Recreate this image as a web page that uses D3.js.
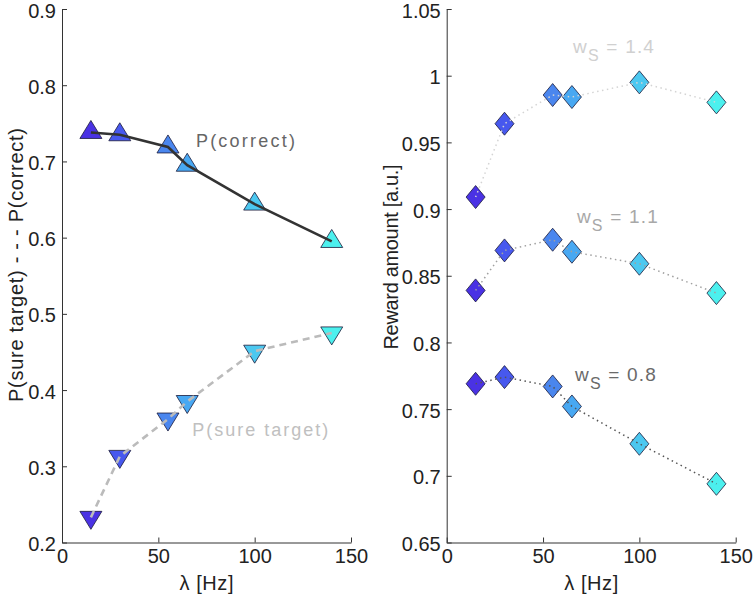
<!DOCTYPE html>
<html><head><meta charset="utf-8">
<script src="https://cdn.jsdelivr.net/npm/d3@7"></script>
<style>body{margin:0;background:#fff}svg{display:block;font-family:"Liberation Sans",Arial,sans-serif}</style>
</head><body><svg id="c" width="756" height="595"></svg>
<script>
const lambdas = [15, 30, 55, 65, 100, 140];
const markerColors = ["#4a32e4", "#4758ee", "#4a86ee", "#48a8f2", "#4cc8f0", "#4cf0ee"];
const pCorrect = [0.738, 0.735, 0.719, 0.695, 0.644, 0.595];
const pSure = [0.233, 0.313, 0.362, 0.385, 0.451, 0.475];
const reward14 = [0.909, 0.964, 0.9855, 0.984, 0.995, 0.980];
const reward11 = [0.839, 0.869, 0.877, 0.868, 0.859, 0.837];
const reward08 = [0.769, 0.774, 0.767, 0.752, 0.724, 0.694];
const xTicks = [0, 50, 100, 150];
const yTicksL = [0.2, 0.3, 0.4, 0.5, 0.6, 0.7, 0.8, 0.9];
const yTicksR = [0.65, 0.7, 0.75, 0.8, 0.85, 0.9, 0.95, 1, 1.05];

const svg = d3.select("#c");
const plotTop = 9, plotBottom = 542.5, W = 289;
const leftL = 62, leftR = 446.7;

function makeAxes(g, x, y, yTicks, fmt) {
  const ax = g.append("g").attr("transform", `translate(0,${plotBottom})`)
    .call(d3.axisBottom(x).tickValues(xTicks).tickSizeInner(-5).tickSizeOuter(0).tickPadding(6).tickFormat(d3.format("d")));
  const ay = g.append("g").attr("transform", `translate(${x.range()[0]},0)`)
    .call(d3.axisLeft(y).tickValues(yTicks).tickSizeInner(-5).tickSizeOuter(0).tickPadding(6).tickFormat(fmt));
  [ax, ay].forEach(a => {
    a.select(".domain").attr("stroke", "#333");
    a.selectAll(".tick line").attr("stroke", "#333");
    a.selectAll("text").attr("font-size", 20).attr("fill", "#222").attr("font-family", "Liberation Sans, Arial, sans-serif");
  });
  ax.selectAll("text").attr("dy", "0.71em");
  ay.selectAll("text").attr("dy", "0.4em");
}

function triPath(w, h, up) {
  const s = up ? 1 : -1;
  return `M0,${-s*2*h/3}L${w/2},${s*h/3}L${-w/2},${s*h/3}Z`;
}

// LEFT PANEL
const xL = d3.scaleLinear().domain([0, 150]).range([leftL, leftL + W]);
const yL = d3.scaleLinear().domain([0.2, 0.9]).range([plotBottom, plotTop]);
const gL = svg.append("g");
makeAxes(gL, xL, yL, yTicksL, d => d3.format(".1f")(d));

gL.selectAll(".tu").data(lambdas).join("path")
  .attr("d", triPath(22, 18, true))
  .attr("transform", (d, i) => `translate(${xL(d)},${yL(pCorrect[i])})`)
  .attr("fill", (d, i) => markerColors[i]).attr("stroke", "#1a1a3a").attr("stroke-width", 0.8);
gL.selectAll(".td").data(lambdas).join("path")
  .attr("d", triPath(22, 18, false))
  .attr("transform", (d, i) => `translate(${xL(d)},${yL(pSure[i])})`)
  .attr("fill", (d, i) => markerColors[i]).attr("stroke", "#1a1a3a").attr("stroke-width", 0.8);

const lineL = (vals) => d3.line().x((d, i) => xL(lambdas[i])).y(d => yL(d))(vals);
gL.append("path").attr("d", lineL(pCorrect)).attr("fill", "none").attr("stroke", "#333").attr("stroke-width", 2.6);
gL.append("path").attr("d", lineL(pSure)).attr("fill", "none").attr("stroke", "#bbb").attr("stroke-width", 2.6).attr("stroke-dasharray", "7,5");

gL.append("text").attr("x", xL(69.5)).attr("y", yL(0.719)).attr("font-size", 18).attr("fill", "#666")
  .attr("textLength", 99).attr("lengthAdjust", "spacing").text("P(correct)");
gL.append("text").attr("x", xL(67.6)).attr("y", yL(0.340)).attr("font-size", 18).attr("fill", "#c0c0c0")
  .attr("textLength", 136).attr("lengthAdjust", "spacing").text("P(sure target)");

gL.append("text").attr("transform", "translate(23,265) rotate(-90)").attr("text-anchor", "middle")
  .attr("font-size", 20).attr("fill", "#222").attr("textLength", 274).attr("lengthAdjust", "spacing")
  .text("P(sure target)  - - -  P(correct)");
gL.append("text").attr("x", (xL(0) + xL(150)) / 2).attr("y", 590).attr("text-anchor", "middle")
  .attr("font-size", 20).attr("fill", "#222").attr("textLength", 54).attr("lengthAdjust", "spacing").text("λ [Hz]");

// RIGHT PANEL
const xR = d3.scaleLinear().domain([0, 150]).range([leftR, leftR + W]);
const yR = d3.scaleLinear().domain([0.65, 1.05]).range([plotBottom, plotTop]);
const gR = svg.append("g");
makeAxes(gR, xR, yR, yTicksR, d => d3.format("")(+d.toFixed(2)));

const rewardSeries = [
  {vals: reward14, color: "#d4d4d4", text: "#d0d0d0", label: "1.4", lx: 65.6, ly: 1.017},
  {vals: reward11, color: "#a0a0a0", text: "#a8a8a8", label: "1.1", lx: 67.6, ly: 0.8897},
  {vals: reward08, color: "#555555", text: "#6a6a6a", label: "0.8", lx: 66.6, ly: 0.771}
];
const lineR = (vals) => d3.line().x((d, i) => xR(lambdas[i])).y(d => yR(d))(vals);
rewardSeries.forEach(s => {
  gR.append("g").selectAll("path").data(lambdas).join("path")
    .attr("d", "M0,-11.5L9.5,0L0,11.5L-9.5,0Z")
    .attr("transform", (d, i) => `translate(${xR(d)},${yR(s.vals[i])})`)
    .attr("fill", (d, i) => markerColors[i]).attr("stroke", "#1a1a3a").attr("stroke-width", 0.8);
  gR.append("path").attr("d", lineR(s.vals)).attr("fill", "none").attr("stroke", s.color)
    .attr("stroke-width", 1.5).attr("stroke-dasharray", "1.5,3.5");
  const t = gR.append("text").attr("x", xR(s.lx)).attr("y", yR(s.ly)).attr("font-size", 19)
    .attr("fill", s.text).attr("letter-spacing", 1.2);
  t.append("tspan").text("w");
  t.append("tspan").attr("font-size", 16).attr("dy", 8).text("S");
  t.append("tspan").attr("dy", -8).text(" = " + s.label);
});

gR.append("text").attr("transform", "translate(398,257) rotate(-90)").attr("text-anchor", "middle")
  .attr("font-size", 20).attr("fill", "#222").attr("textLength", 185).attr("lengthAdjust", "spacing").text("Reward amount [a.u.]");
gR.append("text").attr("x", (xR(0) + xR(150)) / 2).attr("y", 590).attr("text-anchor", "middle")
  .attr("font-size", 20).attr("fill", "#222").attr("textLength", 54).attr("lengthAdjust", "spacing").text("λ [Hz]");
</script></body></html>
